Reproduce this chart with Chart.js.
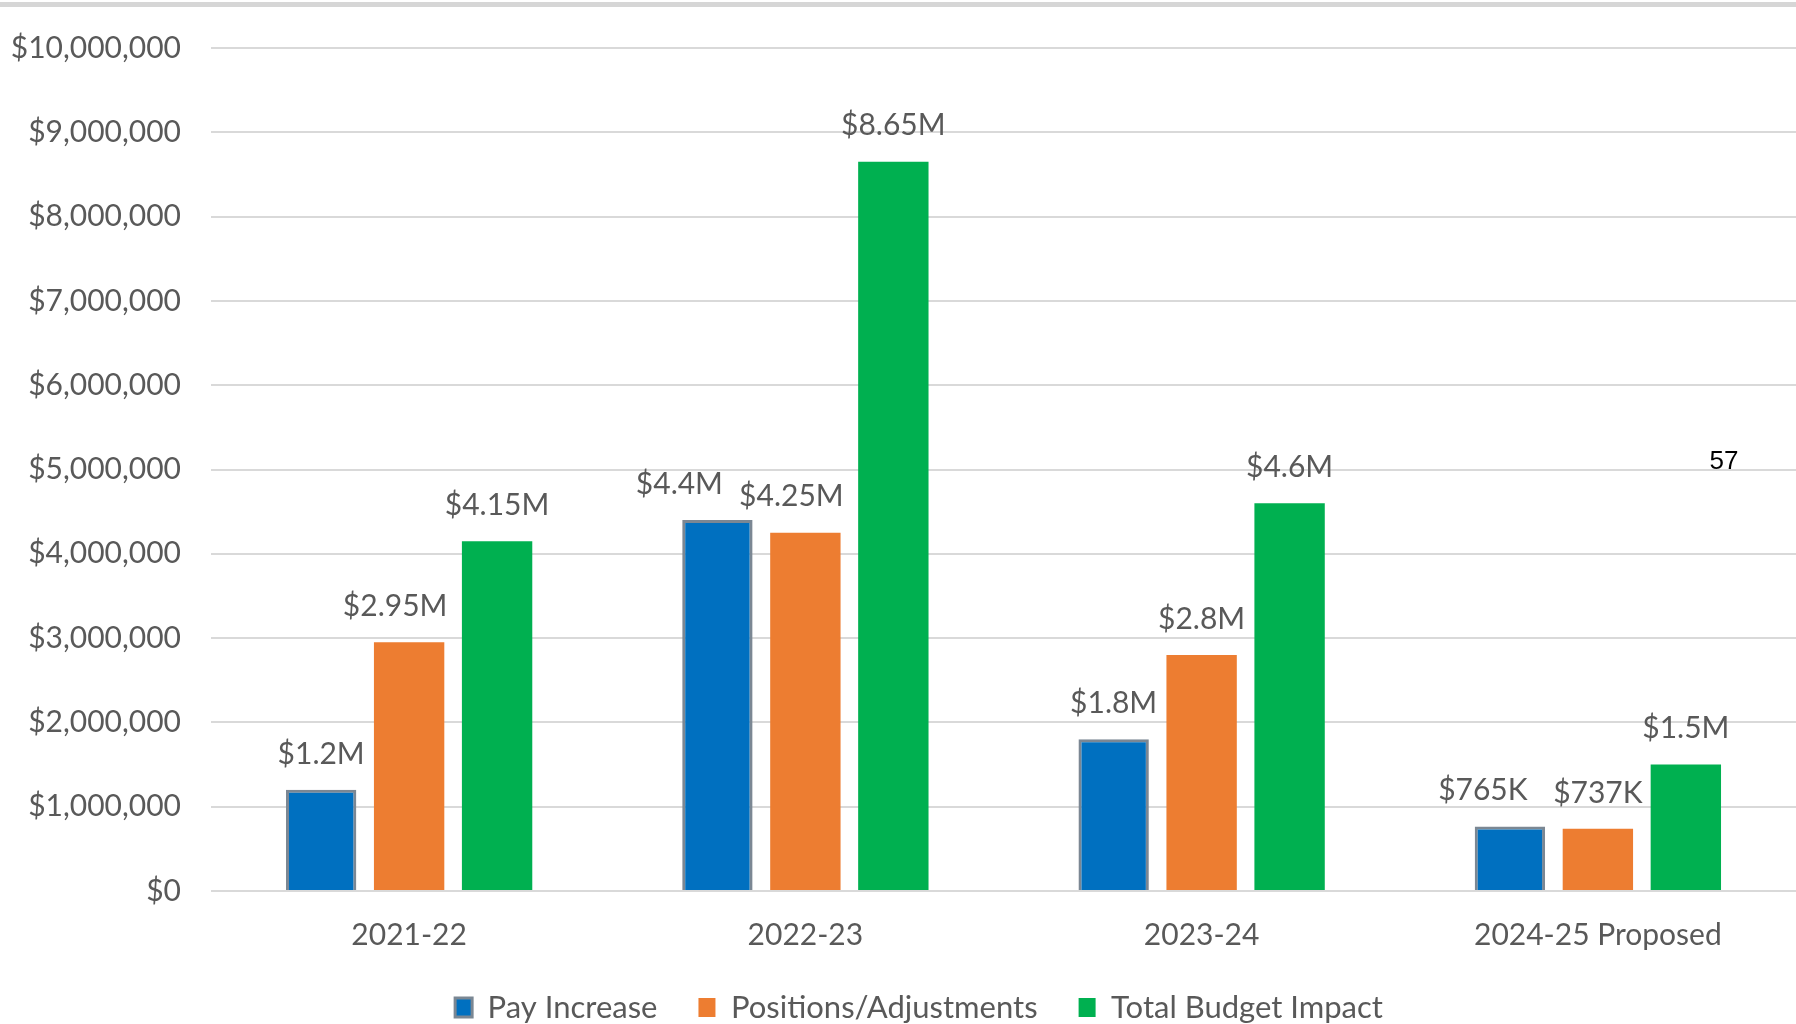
<!DOCTYPE html>
<html>
<head>
<meta charset="utf-8">
<script src="https://cdn.jsdelivr.net/npm/chart.js@4.4.1/dist/chart.umd.min.js"></script>
<style>
html,body{margin:0;padding:0;background:#fff;overflow:hidden}
#wrap{position:relative;width:1796px;height:1024px;background:#fff}
#topline{position:absolute;left:0;top:2px;width:1796px;height:5px;background:#d6d6d6}
#pagenum{position:absolute;left:1699px;top:447px;width:50px;line-height:26px;text-align:center;font-family:"Liberation Sans",Arial,sans-serif;font-size:26px;color:#000}
</style>
</head>
<body>
<div id="wrap">
<canvas id="c" width="1796" height="1024"></canvas>
<div id="topline"></div>
<div id="pagenum">57</div>
</div>
<script>
// ---- data ----
const categories = ['2021-22', '2022-23', '2023-24', '2024-25 Proposed'];
const seriesNames = ['Pay Increase', 'Positions/Adjustments', 'Total Budget Impact'];
const payIncrease = [1200000, 4400000, 1800000, 765000];
const positionsAdjustments = [2950000, 4250000, 2800000, 737000];
const totalBudgetImpact = [4150000, 8650000, 4600000, 1500000];
const payIncreaseLabels = ['$1.2M', '$4.4M', '$1.8M', '$765K'];
const positionsLabels = ['$2.95M', '$4.25M', '$2.8M', '$737K'];
const totalLabels = ['$4.15M', '$8.65M', '$4.6M', '$1.5M'];
const yTickLabels = ['$0', '$1,000,000', '$2,000,000', '$3,000,000', '$4,000,000', '$5,000,000',
                     '$6,000,000', '$7,000,000', '$8,000,000', '$9,000,000', '$10,000,000'];

// ---- styles ----
const FONT = 'Lato';
const TEXT = '#595959';
const payShift = [0, -38, 0, -27];
const posShift = [-14, -14, 0, 0];
const totShift = [0, 0, 0, 0];

const valueLabelPlugin = {
  id: 'valueLabels',
  afterDatasetsDraw(chart) {
    const ctx = chart.ctx;
    ctx.save();
    ctx.font = '30px ' + FONT;
    ctx.fillStyle = TEXT;
    ctx.textAlign = 'center';
    ctx.textBaseline = 'middle';
    chart.data.datasets.forEach((ds, i) => {
      const meta = chart.getDatasetMeta(i);
      meta.data.forEach((bar, j) => {
        ctx.fillText(ds.valueLabels[j], bar.x + ds.labelShift[j], bar.y - 36);
      });
    });
    ctx.restore();
  }
};

const legendShiftPlugin = {
  id: 'legendShift',
  afterLayout(chart) {
    if (chart.legend) { chart.legend.left += 21; chart.legend.right += 21; }
  }
};

new Chart(document.getElementById('c'), {
  type: 'bar',
  data: {
    labels: categories,
    datasets: [
      { label: seriesNames[0], data: payIncrease, backgroundColor: '#0070C0', borderColor: '#7b8793', borderWidth: 3,
        valueLabels: payIncreaseLabels, labelShift: payShift },
      { label: seriesNames[1], data: positionsAdjustments, backgroundColor: '#ED7D31', borderWidth: 0,
        valueLabels: positionsLabels, labelShift: posShift },
      { label: seriesNames[2], data: totalBudgetImpact, backgroundColor: '#00B050', borderWidth: 0,
        valueLabels: totalLabels, labelShift: totShift }
    ]
  },
  options: {
    responsive: false,
    devicePixelRatio: 1,
    animation: false,
    categoryPercentage: 0.666,
    barPercentage: 0.8,
    layout: { padding: { top: 46, right: 0, left: 0, bottom: -9 } },
    plugins: {
      tooltip: { enabled: false },
      legend: {
        position: 'bottom',
        labels: {
          boxWidth: 17, boxHeight: 19, padding: 41,
          color: TEXT, font: { family: FONT, size: 31 }
        }
      }
    },
    scales: {
      x: {
        grid: { display: false },
        border: { display: false },
        ticks: { color: TEXT, font: { family: FONT, size: 30 }, padding: 18, maxRotation: 0 },
        afterFit: (s) => { s.height = 60; }
      },
      y: {
        min: 0, max: 10000000,
        grid: { color: '#d9d9d9', lineWidth: 2, drawTicks: false },
        border: { display: false },
        ticks: {
          stepSize: 1000000, padding: 30, color: TEXT, font: { family: FONT, size: 30 },
          callback: (v) => yTickLabels[Math.round(v / 1000000)]
        },
        afterFit: (s) => { s.width = 211; }
      }
    }
  },
  plugins: [valueLabelPlugin, legendShiftPlugin]
});
</script>
</body>
</html>
